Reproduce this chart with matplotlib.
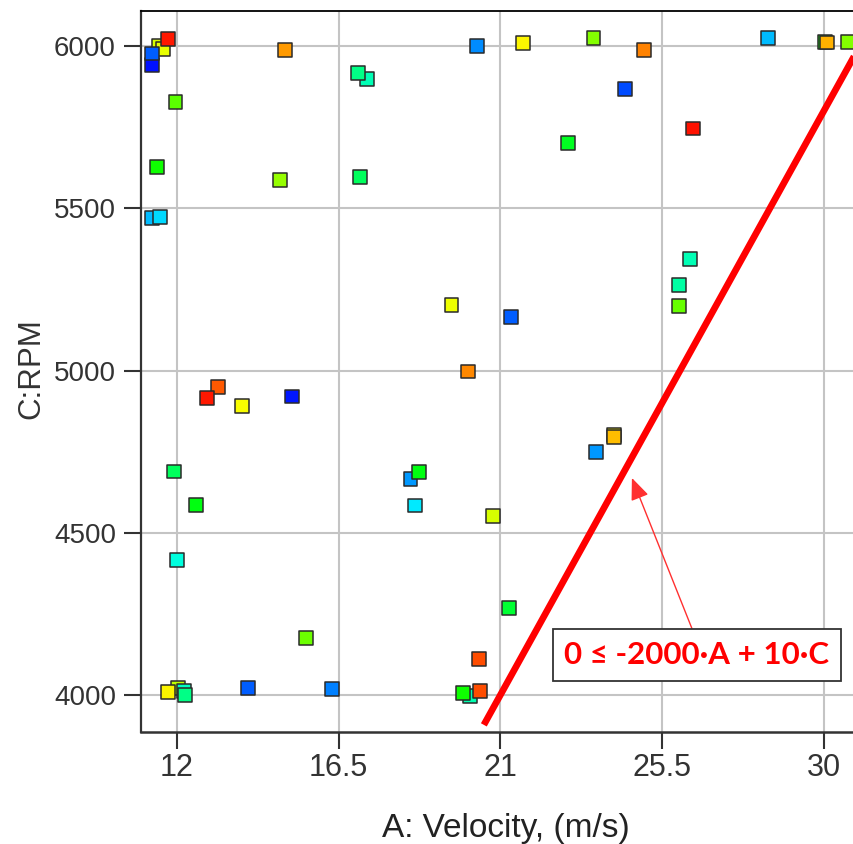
import numpy as np
import matplotlib
matplotlib.use("Agg")
import matplotlib.pyplot as plt
from matplotlib.colors import ListedColormap

# design points: A velocity, C rpm, response level (0 = blue ... 1 = red)
velocity = [11.50, 11.62, 11.76, 11.30, 11.31, 15.00, 17.30, 17.04, 11.96, 11.44,
            14.88, 17.09, 11.30, 11.53, 20.36, 21.64, 23.59, 24.47, 22.87, 25.00,
            26.35, 28.45, 30.03, 30.10, 30.68, 13.15, 12.84, 13.80, 15.20, 11.92,
            19.64, 21.29, 20.09, 24.16, 24.16, 23.65, 18.50, 18.73, 26.27, 25.98,
            25.97, 12.53, 11.99, 15.58, 13.97, 16.31, 12.02, 12.20, 11.76, 12.22,
            18.62, 20.80, 21.24, 20.40, 20.15, 19.97, 20.43]
rpm = [6000, 5990, 6021, 5941, 5977, 5988, 5898, 5916, 5827, 5628,
       5587, 5597, 5469, 5474, 6001, 6010, 6024, 5868, 5700, 5988,
       5746, 6024, 6013, 6011, 6013, 4950, 4915, 4891, 4920, 4689,
       5202, 5164, 4997, 4800, 4795, 4750, 4665, 4686, 5344, 5264,
       5199, 4586, 4417, 4175, 4021, 4019, 4021, 4013, 4008, 4001,
       4584, 4553, 4268, 4112, 3996, 4006, 4011]
level = [0.70, 0.72, 0.97, 0.00, 0.08, 0.84, 0.31, 0.36, 0.58, 0.50,
         0.64, 0.40, 0.17, 0.20, 0.125, 0.75, 0.62, 0.06, 0.46, 0.87,
         0.98, 0.17, 0.50, 0.82, 0.62, 0.91, 0.97, 0.74, 0.01, 0.40,
         0.73, 0.08, 0.86, 0.75, 0.81, 0.14, 0.14, 0.48, 0.31, 0.33,
         0.59, 0.48, 0.27, 0.60, 0.08, 0.11, 0.68, 0.30, 0.75, 0.36,
         0.22, 0.70, 0.44, 0.92, 0.32, 0.50, 0.92]

# constraint line 0 <= -2000*A + 10*C as drawn
line_a = [20.54, 31.2]
line_c = [3908, 6040]
label_text = "0 \u2264 -2000\u00b7A + 10\u00b7C"

x_ticks = [12, 16.5, 21, 25.5, 30]
x_ticklabels = ["12", "16.5", "21", "25.5", "30"]
y_ticks = [4000, 4500, 5000, 5500, 6000]

# blue -> red rainbow
cmap = ListedColormap(plt.cm.hsv(np.linspace(2 / 3, 0, 256)))

fig = plt.figure(figsize=(8.54, 8.44), dpi=100)
ax = fig.add_axes([141 / 854, 1 - 732 / 844, 1 - 141 / 854, (732 - 10.7) / 844])

ax.scatter(velocity, rpm, c=level, cmap=cmap, vmin=0, vmax=1, marker="s", s=100,
           edgecolors="#2a2a2a", linewidths=1.1, zorder=3)
ax.plot(line_a, line_c, color="#ff0000", lw=4.8, solid_capstyle="butt", zorder=4)

ax.annotate(label_text, xy=(24.66, 4669), xytext=(26.47, 4123),
            ha="center", va="center", color="#ff0000", fontsize=22.5, fontweight="bold",
            family=["Lato", "Noto Sans", "DejaVu Sans"],
            bbox=dict(boxstyle="square,pad=0.38", fc="white", ec="#333333", lw=1.3),
            arrowprops=dict(arrowstyle="-|>,head_length=0.6,head_width=0.25", color="#ff3030",
                            lw=1.0, relpos=(0.5, 1.0), shrinkA=0, shrinkB=0),
            zorder=5)

ax.set_xlim(11.0, 30.84)
ax.set_ylim(3886, 6109)
ax.set_xticks(x_ticks)
ax.set_xticklabels(x_ticklabels, family=["Liberation Sans", "DejaVu Sans"], fontsize=22)
ax.set_yticks(y_ticks)
for t in ax.get_yticklabels():
    t.set_family(["Liberation Sans", "DejaVu Sans"])
    t.set_fontsize(20)
ax.tick_params(direction="out", length=12, width=1.5, color="#333333", labelcolor="#333333")
ax.tick_params(axis="x", pad=3)
ax.tick_params(axis="y", pad=6)

ax.grid(True, color="#c4c4c4", lw=1.5)
ax.set_axisbelow(True)
ax.spines["right"].set_visible(False)
ax.spines["left"].set_linewidth(1.6)
ax.spines["left"].set_color("#333333")
ax.spines["bottom"].set_linewidth(1.8)
ax.spines["bottom"].set_color("#333333")
ax.spines["top"].set_linewidth(1.3)

fig.text(506 / 854, 1 - 828 / 844, "A: Velocity, (m/s)", ha="center", va="center",
         fontsize=24, color="#222222", family=["Liberation Sans", "DejaVu Sans"])
fig.text(31 / 854, 1 - 369 / 844, "C:RPM", ha="center", va="center", rotation=90,
         fontsize=22.5, color="#333333", family=["Liberation Sans", "DejaVu Sans"])

fig.savefig("out.png", dpi=100)
